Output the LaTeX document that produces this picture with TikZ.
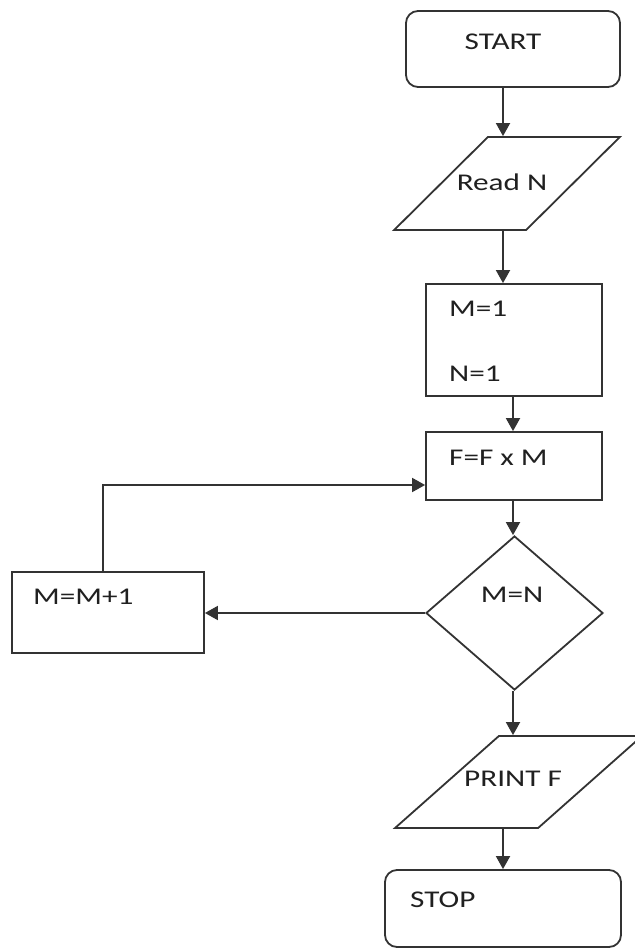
\documentclass[tikz,border=0pt]{standalone}
\usepackage{fontspec}
\setmainfont{Carlito}[FakeStretch=1.3]
\usetikzlibrary{shapes.geometric,arrows.meta}
\definecolor{ln}{HTML}{333333}
\definecolor{tx}{HTML}{202020}
\begin{document}
\begin{tikzpicture}[x=1pt,y=-1pt,
  shp/.style={draw=ln,line width=1.8pt,inner sep=0pt,fill=white},
  boxnode/.style={shp,rectangle},
  roundbox/.style={shp,rectangle,rounded corners=12pt},
  para/.style={shp,trapezium,trapezium stretches=true,inner sep=2pt},
  dia/.style={shp,diamond},
  lbl/.style={inner sep=0pt,text=tx,font=\fontsize{24}{28}\selectfont},
  arr/.style={draw=ln,line width=1.8pt,-{Triangle[width=14pt,length=13pt]}}]
\useasboundingbox (0,0) rectangle (634,949);
% shapes
\node[roundbox,minimum width=214pt,minimum height=76pt] (start) at (513,49) {};
\node[para,trapezium left angle=58.5,trapezium right angle=121.5,minimum width=226pt,minimum height=93pt] (read) at (507,183.5) {\strut};
\node[boxnode,minimum width=176pt,minimum height=112pt] (init) at (514,340) {};
\node[boxnode,minimum width=176pt,minimum height=68pt] (mult) at (514,466) {};
\node[dia,minimum width=177pt,minimum height=154pt] (test) at (514.5,613) {};
\node[boxnode,minimum width=192pt,minimum height=81pt] (incr) at (108,612.5) {};
\node[para,trapezium left angle=56.5,trapezium right angle=123.5,minimum width=247pt,minimum height=92pt] (print) at (518.5,782) {\strut};
\node[roundbox,minimum width=236pt,minimum height=77pt] (stop) at (503,908.5) {};
% texts
\node[lbl] (tstart) at (503,42) {START};
\node[lbl] (tread) at (502,182) {Read N};
\node[lbl,anchor=west] (tm) at (449,309) {M=1};
\node[lbl,anchor=west] (tn) at (449,374) {N=1};
\node[lbl,anchor=west] (tf) at (449,458) {F=F x M};
\node[lbl] (ttest) at (512,595) {M=N};
\node[lbl,anchor=west] (tincr) at (33,597) {M=M+1};
\node[lbl] (tprint) at (513,779) {PRINT F};
\node[lbl,anchor=west] (tstop) at (410,900) {STOP};
% connectors
\coordinate (c1) at (503,0);
\coordinate (c2) at (513,0);
\draw[arr] (start.south -| c1) -- (read.north -| c1);
\draw[arr] (read.south -| c1) -- (init.north -| c1);
\draw[arr] (init.south -| c2) -- (mult.north -| c2);
\draw[arr] (mult.south -| c2) -- (test.north -| c2);
\draw[arr] (test.west) -- (incr.east |- test.west);
\coordinate (c3) at (103,485);
\draw[arr] (incr.north -| c3) -- (c3) -- (mult.west |- c3);
\draw[arr] (test.south -| c2) -- (print.north -| c2);
\draw[arr] (print.south -| c1) -- (stop.north -| c1);
\end{tikzpicture}
\end{document}
